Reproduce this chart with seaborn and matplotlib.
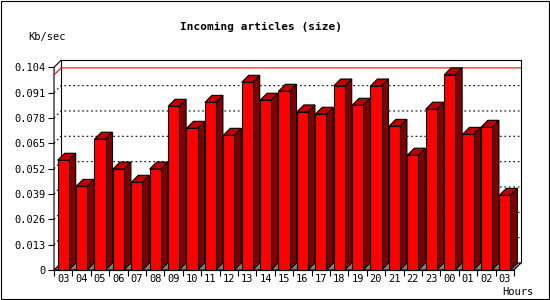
import numpy as np
import pandas as pd
import matplotlib
matplotlib.use("Agg")
import matplotlib.pyplot as plt
from matplotlib.patches import Polygon
import seaborn as sns

hours = ["03", "04", "05", "06", "07", "08", "09", "10", "11", "12", "13", "14",
         "15", "16", "17", "18", "19", "20", "21", "22", "23", "00", "01", "02", "03"]
values = [0.0563, 0.0429, 0.0671, 0.0518, 0.0450, 0.0518, 0.0840, 0.0727, 0.0860,
          0.0691, 0.0963, 0.0871, 0.0917, 0.0811, 0.0799, 0.0944, 0.0845, 0.0944,
          0.0737, 0.0589, 0.0825, 0.1001, 0.0696, 0.0732, 0.0383]
yticks = [0, 0.013, 0.026, 0.039, 0.052, 0.065, 0.078, 0.091, 0.104]
ytick_labels = ["0", "0.013", "0.026", "0.039", "0.052", "0.065", "0.078", "0.091", "0.104"]
title = "Incoming articles (size)"
ylabel = "Kb/sec"
xlabel = "Hours"

sns.set_style("white")
plt.rcParams["font.family"] = ["DejaVu Sans Mono", "DejaVu Sans"]
plt.rcParams["text.color"] = "black"
plt.rcParams["xtick.color"] = "black"
plt.rcParams["ytick.color"] = "black"
plt.rcParams["xtick.labelcolor"] = "black"
plt.rcParams["ytick.labelcolor"] = "black"

W, H = 550, 300
fig = plt.figure(figsize=(5.5, 3), dpi=100)
fig.patch.set_facecolor("white")

ax_l, ax_r, ax_top, ax_bot = 54, 514, 67.3, 270
ax = fig.add_axes([ax_l / W, (H - ax_bot) / H, (ax_r - ax_l) / W, (ax_bot - ax_top) / H])
ax.set_facecolor("none")

n = len(values)
xmin, xmax = -0.5, n - 0.5
ymax = 0.104
depth_px = 7
dx = depth_px / ((ax_r - ax_l) / n)
dy = depth_px / (ax_bot - ax_top) * ymax
lw = 0.8

df = pd.DataFrame({"slot": np.arange(n), "value": values})

# back frame and floor
ax.add_patch(Polygon([(xmin, 0), (xmax, 0), (xmax + dx, dy), (xmin + dx, dy)],
                     closed=True, facecolor="#808080", edgecolor="black", lw=lw,
                     zorder=1, clip_on=False))
ax.plot([xmin + dx, xmin + dx, xmax + dx, xmax + dx], [dy, ymax + dy, ymax + dy, dy],
        color="black", lw=lw, zorder=1, clip_on=False, solid_capstyle="butt")
ax.plot([xmin, xmin, xmin + dx], [0, ymax, ymax + dy], color="black", lw=lw,
        zorder=1, clip_on=False)

# dotted gridlines on the back plane
for v in yticks[1:-1]:
    ax.plot([xmin, xmin + dx, xmax + dx], [v, v + dy, v + dy], color="black",
            lw=lw, linestyle=(0, (1.5, 2.5)), zorder=1, clip_on=False)

# max line
vmax = max(values)
ax.plot([xmin, xmin + dx, xmax + dx], [vmax, vmax + dy, vmax + dy], color="red",
        lw=lw, zorder=1.5, clip_on=False)

sns.barplot(data=df, x="slot", y="value", color="#FF0000", width=0.6,
            edgecolor="black", linewidth=lw, saturation=1, ax=ax, zorder=4)

for p in ax.patches:
    if not hasattr(p, "get_width") or isinstance(p, Polygon):
        continue
    x0, w, h = p.get_x(), p.get_width(), p.get_height()
    p.set_zorder(4)
    p.set_clip_on(False)
    side = Polygon([(x0 + w, 0), (x0 + w + dx, dy), (x0 + w + dx, h + dy), (x0 + w, h)],
                   closed=True, facecolor="#800000", edgecolor="black", lw=lw,
                   zorder=3, clip_on=False)
    top = Polygon([(x0, h), (x0 + dx, h + dy), (x0 + w + dx, h + dy), (x0 + w, h)],
                  closed=True, facecolor="#C00000", edgecolor="black", lw=lw,
                  zorder=3, clip_on=False)
    ax.add_patch(side)
    ax.add_patch(top)

ax.set_xlim(xmin, xmax)
ax.set_ylim(0, ymax)
for s in ax.spines.values():
    s.set_visible(False)

# x ticks: marks at boundaries, labels at centers
ax.set_xticks(np.arange(n + 1) - 0.5)
ax.set_xticklabels([])
ax.set_xticks(np.arange(n), minor=True)
ax.set_xticklabels(hours, minor=True)
ax.tick_params(axis="x", which="major", length=4, width=lw, color="black", direction="out", bottom=True)
ax.tick_params(axis="x", which="minor", length=0, pad=3, labelsize=7.5, bottom=True,
               labelcolor="black")
ax.set_yticks(yticks)
ax.set_yticklabels(ytick_labels)
ax.tick_params(axis="y", length=4, width=lw, color="black", direction="out", left=True,
               labelsize=7.5, pad=2, labelcolor="black")
ax.set_xlabel("")
ax.set_ylabel("")
ax.axhline(0, color="black", lw=lw, zorder=5, clip_on=False)

fig.text(261 / W, 1 - 27 / H, title, ha="center", va="center", fontsize=8,
         fontweight="bold", color="black")
fig.text(28 / W, 1 - 37 / H, ylabel, ha="left", va="center", fontsize=7.5, color="black")
fig.text(518 / W, 1 - 292 / H, xlabel, ha="center", va="center", fontsize=7.5, color="black")

# outer 1px border
fig.add_artist(plt.Rectangle((0.5 / W, 1.5 / H), 1 - 2.0 / W, 1 - 2.0 / H,
                             transform=fig.transFigure, fill=False,
                             edgecolor="black", linewidth=0.8))

fig.savefig("out.png", dpi=100)
